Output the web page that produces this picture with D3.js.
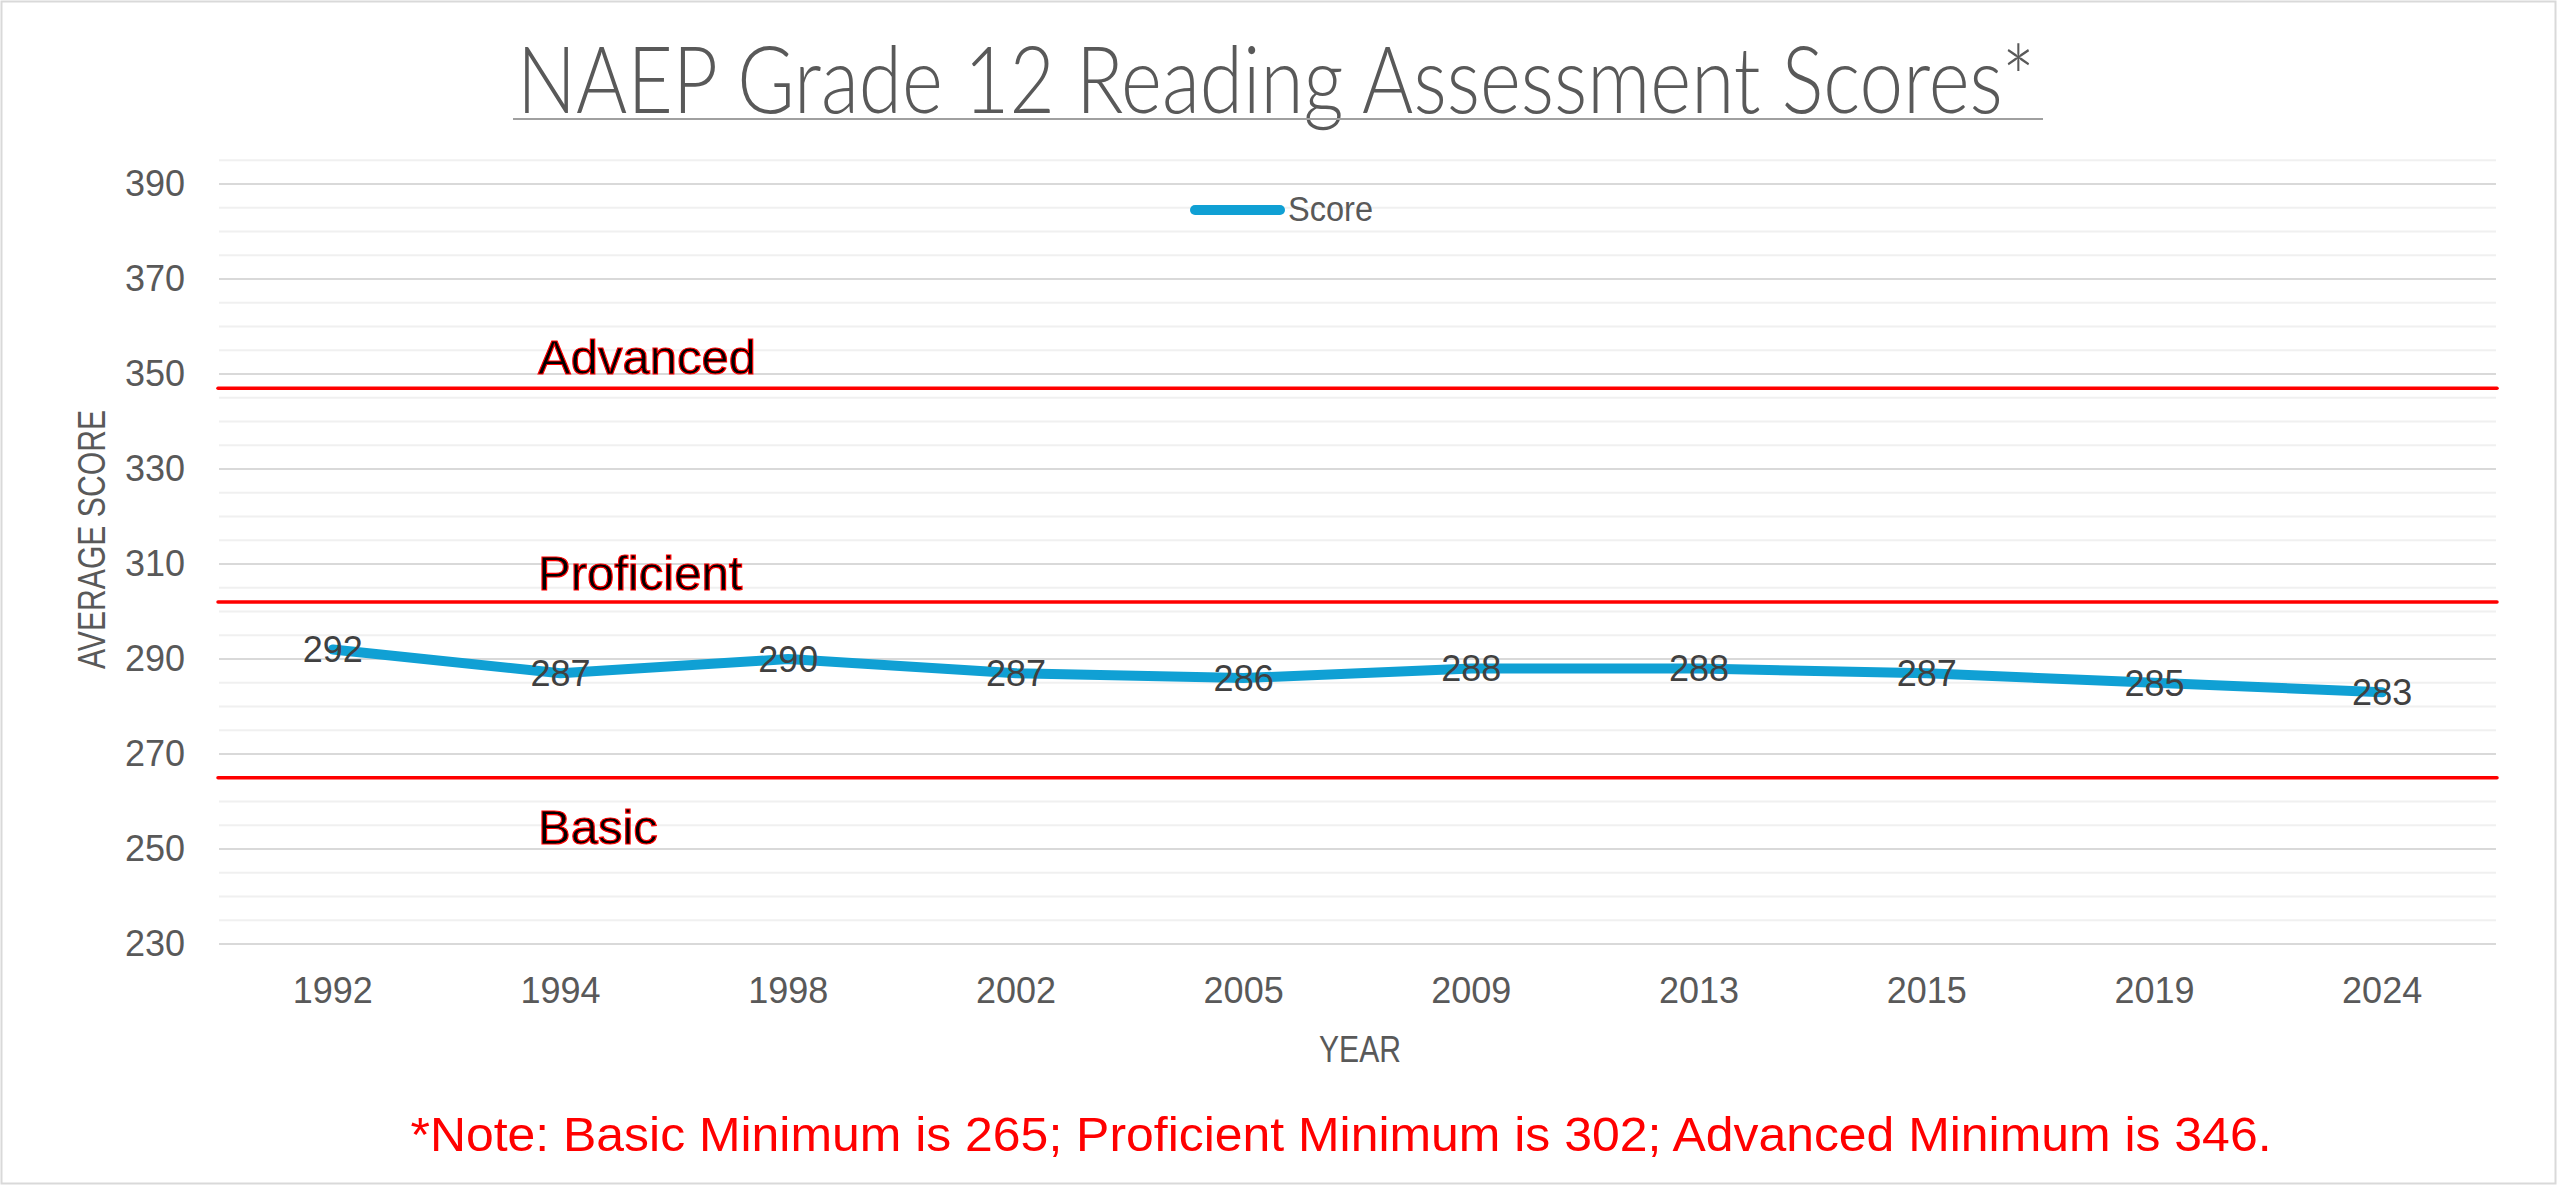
<!DOCTYPE html>
<html>
<head>
<meta charset="utf-8">
<script src="https://cdn.jsdelivr.net/npm/d3@7"></script>
<style>
  html, body { margin: 0; padding: 0; background: #fff; }
  svg { display: block; }
</style>
</head>
<body>
<script>
// ---- data ----
const years = ["1992", "1994", "1998", "2002", "2005", "2009", "2013", "2015", "2019", "2024"];
const scores = [292, 287, 290, 287, 286, 288, 288, 287, 285, 283];
const yTickValues = [230, 250, 270, 290, 310, 330, 350, 370, 390];
const levelNames = ["Basic", "Proficient", "Advanced"];
const levelValues = [265, 302, 347];
const titleText = "NAEP Grade 12 Reading Assessment Scores*";
const noteText = "*Note: Basic Minimum is 265; Proficient Minimum is 302; Advanced Minimum is 346.";
const seriesName = "Score";

// ---- layout ----
const W = 2557, H = 1185;
const plot = { left: 219, right: 2496, top: 160.25, bottom: 944 };
const sans = "'Liberation Sans', Arial, sans-serif";

const svg = d3.select("body").append("svg").attr("width", W).attr("height", H);
svg.append("rect").attr("x", 0).attr("y", 0).attr("width", W).attr("height", H).attr("fill", "#fff");
svg.append("rect").attr("x", 1.5).attr("y", 1.5).attr("width", W - 3).attr("height", H - 3)
  .attr("fill", "none").attr("stroke", "#D9D9D9").attr("stroke-width", 2);

const y = d3.scaleLinear().domain([230, 395]).range([plot.bottom, plot.top]);
const x = d3.scaleBand().domain(years).range([plot.left, plot.right]).padding(0);
const cx = d => x(d) + x.bandwidth() / 2;

// gridlines
const gridVals = d3.range(230, 396, 5);
svg.append("g").selectAll("line").data(gridVals.filter(v => (v - 230) % 20 !== 0)).join("line")
  .attr("x1", plot.left).attr("x2", plot.right)
  .attr("y1", d => y(d)).attr("y2", d => y(d))
  .attr("stroke", "#F0F0F0").attr("stroke-width", 2);
svg.append("g").selectAll("line").data(gridVals.filter(v => (v - 230) % 20 === 0)).join("line")
  .attr("x1", plot.left).attr("x2", plot.right)
  .attr("y1", d => y(d)).attr("y2", d => y(d))
  .attr("stroke", "#D9D9D9").attr("stroke-width", 2);

// y axis
const yAxis = svg.append("g").attr("transform", `translate(${plot.left},0)`)
  .call(d3.axisLeft(y).tickValues(yTickValues).tickSize(0).tickPadding(34));
yAxis.select(".domain").remove();
yAxis.selectAll("text").attr("font-family", sans).attr("font-size", 36).attr("fill", "#595959");

// x axis
const xAxis = svg.append("g").attr("transform", `translate(0,${plot.bottom})`)
  .call(d3.axisBottom(x).tickSize(0).tickPadding(33));
xAxis.select(".domain").remove();
xAxis.selectAll("text").attr("font-family", sans).attr("font-size", 36).attr("fill", "#595959");

// level lines
svg.append("g").selectAll("line").data(levelValues).join("line")
  .attr("x1", plot.left - 1).attr("x2", plot.right + 1)
  .attr("y1", d => y(d)).attr("y2", d => y(d))
  .attr("stroke", "#FF0000").attr("stroke-width", 3.5).attr("stroke-linecap", "round");

// level labels
const levelOffsets = { "Basic": 66, "Proficient": -12, "Advanced": -14 };
svg.append("g").selectAll("text").data(levelNames).join("text")
  .attr("x", 538)
  .attr("y", (d, i) => y(levelValues[i]) + levelOffsets[d])
  .attr("font-family", sans).attr("font-size", 49)
  .attr("fill", "#000").attr("stroke", "#FF0000").attr("stroke-width", 1.2)
  .text(d => d);

// series line
const line = d3.line().x((d, i) => cx(years[i])).y(d => y(d));
svg.append("path").datum(scores)
  .attr("d", line)
  .attr("fill", "none").attr("stroke", "#10A0D4").attr("stroke-width", 10)
  .attr("stroke-linejoin", "round").attr("stroke-linecap", "round");

// data labels
svg.append("g").selectAll("text").data(scores).join("text")
  .attr("x", (d, i) => cx(years[i]))
  .attr("y", d => y(d))
  .attr("dy", "0.36em")
  .attr("text-anchor", "middle")
  .attr("font-family", sans).attr("font-size", 36).attr("fill", "#404040")
  .text(d => d);

// legend
svg.append("line").attr("x1", 1195).attr("x2", 1280).attr("y1", 210).attr("y2", 210)
  .attr("stroke", "#10A0D4").attr("stroke-width", 10).attr("stroke-linecap", "round");
svg.append("text").attr("x", 1288).attr("y", 221)
  .attr("font-family", sans).attr("font-size", 35).attr("fill", "#595959")
  .attr("textLength", 85).attr("lengthAdjust", "spacingAndGlyphs")
  .text(seriesName);

// axis titles
svg.append("text")
  .attr("transform", "translate(105,539.5) rotate(-90)")
  .attr("text-anchor", "middle")
  .attr("font-family", sans).attr("font-size", 38).attr("fill", "#595959")
  .attr("textLength", 259).attr("lengthAdjust", "spacingAndGlyphs")
  .text("AVERAGE SCORE");
svg.append("text")
  .attr("x", 1360).attr("y", 1062).attr("text-anchor", "middle")
  .attr("font-family", sans).attr("font-size", 37).attr("fill", "#595959")
  .attr("textLength", 82).attr("lengthAdjust", "spacingAndGlyphs")
  .text("YEAR");

// title
svg.append("text")
  .attr("x", 517).attr("y", 113)
  .attr("font-family", "Lato, 'Open Sans', sans-serif").attr("font-weight", 300)
  .attr("font-size", 92).attr("fill", "#595959")
  .attr("textLength", 1518).attr("lengthAdjust", "spacingAndGlyphs")
  .text(titleText);
svg.append("line").attr("x1", 513).attr("x2", 2043).attr("y1", 119).attr("y2", 119)
  .attr("stroke", "#A0A0A0").attr("stroke-width", 2);

// note
svg.append("text")
  .attr("x", 1341).attr("y", 1151).attr("text-anchor", "middle")
  .attr("font-family", sans).attr("font-size", 49).attr("fill", "#FF0000")
  .attr("textLength", 1861).attr("lengthAdjust", "spacingAndGlyphs")
  .text(noteText);
</script>
</body>
</html>
